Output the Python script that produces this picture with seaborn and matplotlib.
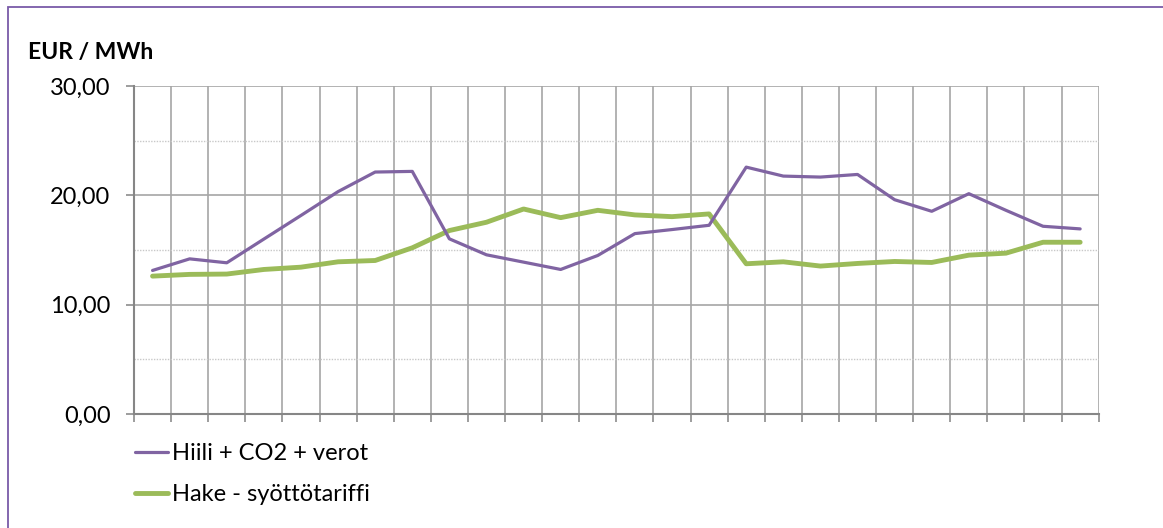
import numpy as np
import pandas as pd
import matplotlib.pyplot as plt
import matplotlib.patches as mpatches
from matplotlib.ticker import FuncFormatter, MultipleLocator
import seaborn as sns

# ==== Data ====
periods = list(range(1, 27))  # 26 unlabeled categories
hiili = [13.13, 14.19, 13.83, 16.0, 18.16, 20.34, 22.13, 22.19, 16.02, 14.56,
         13.89, 13.22, 14.50, 16.50, 16.87, 17.26, 22.58, 21.76, 21.67, 21.91,
         19.60, 18.54, 20.15, 18.63, 17.17, 16.93]
hake = [12.61, 12.77, 12.80, 13.22, 13.43, 13.92, 14.04, 15.20, 16.78, 17.54,
        18.75, 17.96, 18.63, 18.21, 18.05, 18.30, 13.74, 13.92, 13.53, 13.77,
        13.95, 13.86, 14.53, 14.71, 15.71, 15.71]
series_names = ["Hiili + CO2 + verot", "Hake - syöttötariffi"]
y_label = "EUR / MWh"

purple = "#8064A2"
green = "#9BBB59"

sns.set_style("white")
plt.rcParams["font.family"] = ["Lato", "DejaVu Sans"]
plt.rcParams["text.color"] = "black"

df = pd.DataFrame({"period": periods, "hiili": hiili, "hake": hake})

fig = plt.figure(figsize=(11.63, 5.28), dpi=100)
ax = fig.add_axes([134 / 1163, 1 - 414 / 528, (1098.7 - 134) / 1163, (414 - 86) / 528])

sns.lineplot(data=df, x="period", y="hiili", ax=ax, color=purple, linewidth=2.3,
             label=series_names[0], zorder=4)
sns.lineplot(data=df, x="period", y="hake", ax=ax, color=green, linewidth=3.5,
             label=series_names[1], zorder=3, solid_capstyle="round")

ax.set_xlim(0.5, len(periods) + 0.5)
ax.set_ylim(0, 30)
ax.set_xlabel("")
ax.set_ylabel("")

# category boundaries as x ticks, no labels
ax.set_xticks(np.arange(0.5, len(periods) + 1, 1))
ax.set_xticklabels([])
ax.yaxis.set_major_locator(MultipleLocator(10))
ax.yaxis.set_minor_locator(MultipleLocator(5))
ax.yaxis.set_major_formatter(FuncFormatter(lambda v, p: f"{v:.2f}".replace(".", ",")))

ax.tick_params(axis="x", which="major", direction="out", length=6, width=1.2,
               color="#8C8C8C", bottom=True)
ax.tick_params(axis="y", which="major", direction="out", length=6, width=1.2,
               color="#8C8C8C", left=True, labelsize=17, pad=11, labelcolor="black")
ax.tick_params(axis="y", which="minor", length=0)

ax.grid(True, axis="x", which="major", color="#A6A6A6", linewidth=1.2)
ax.grid(True, axis="y", which="major", color="#A6A6A6", linewidth=1.2)
ax.grid(True, axis="y", which="minor", color="#C8C8C8", linewidth=1.0, linestyle=(0, (1, 1)))
ax.set_axisbelow(True)

for side in ["top", "right"]:
    ax.spines[side].set_visible(False)
for side in ["left", "bottom"]:
    ax.spines[side].set_color("#868686")
    ax.spines[side].set_linewidth(1.5)

ax.get_legend().remove()
handles, labels = ax.get_legend_handles_labels()
fig.legend(handles, labels, loc="upper left", bbox_to_anchor=(135 / 1163, 1 - 443 / 528),
           frameon=False, fontsize=17, handlelength=1.4, handletextpad=0.15,
           labelspacing=0.85, borderaxespad=0, borderpad=0)

fig.text(28 / 1163, 1 - 52 / 528, y_label, fontsize=16.5, fontweight="bold",
         ha="left", va="center")

# purple outer frame (only top and left edges fall inside the image)
fig.patches.append(mpatches.Rectangle((7.5 / 1163, -0.1), 1.2, 1 - 6.5 / 528 + 0.1,
                                      transform=fig.transFigure, fill=False,
                                      edgecolor="#7A5BA8", linewidth=1.3))

fig.savefig("out.png", dpi=100)
